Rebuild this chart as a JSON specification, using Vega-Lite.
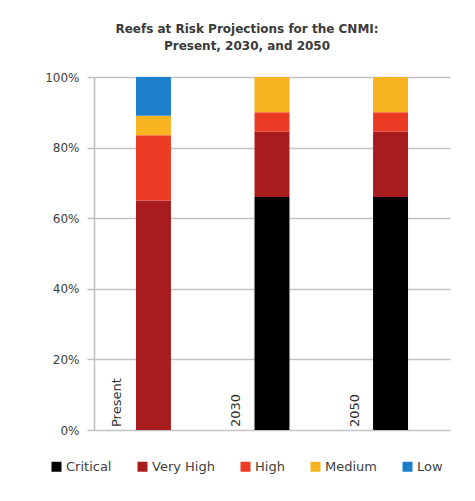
{
  "$schema": "https://vega.github.io/schema/vega-lite/v6.json",
  "autosize": {"type": "none"},
  "width": 356,
  "height": 353,
  "padding": {"left": 94, "top": 77, "right": 25, "bottom": 71},
  "background": "white",
  "title": {
    "text": ["Reefs at Risk Projections for the CNMI:", "Present, 2030, and 2050"],
    "font": "DejaVu Sans",
    "fontSize": 12,
    "fontWeight": "bold",
    "color": "#3a3a3a",
    "lineHeight": 17,
    "anchor": "middle",
    "frame": "group",
    "dx": -25,
    "offset": 18
  },
  "datasets": {
    "risk": [
      {"period": "Present", "level": "Critical", "share": 0.0},
      {"period": "Present", "level": "Very High", "share": 0.65},
      {"period": "Present", "level": "High", "share": 0.185},
      {"period": "Present", "level": "Medium", "share": 0.055},
      {"period": "Present", "level": "Low", "share": 0.11},
      {"period": "2030", "level": "Critical", "share": 0.66},
      {"period": "2030", "level": "Very High", "share": 0.185},
      {"period": "2030", "level": "High", "share": 0.055},
      {"period": "2030", "level": "Medium", "share": 0.10},
      {"period": "2030", "level": "Low", "share": 0.0},
      {"period": "2050", "level": "Critical", "share": 0.66},
      {"period": "2050", "level": "Very High", "share": 0.185},
      {"period": "2050", "level": "High", "share": 0.055},
      {"period": "2050", "level": "Medium", "share": 0.10},
      {"period": "2050", "level": "Low", "share": 0.0}
    ],
    "labels": [
      {"period": "Present", "base": 0},
      {"period": "2030", "base": 0},
      {"period": "2050", "base": 0}
    ]
  },
  "encoding": {
    "x": {
      "field": "period",
      "type": "nominal",
      "sort": ["Present", "2030", "2050"],
      "scale": {"paddingInner": 0.705, "paddingOuter": 0.354},
      "axis": null
    }
  },
  "layer": [
    {
      "data": {"name": "risk"},
      "transform": [
        {"calculate": "indexof(['Critical', 'Very High', 'High', 'Medium', 'Low'], datum.level)", "as": "stackRank"}
      ],
      "mark": {"type": "bar"},
      "encoding": {
        "y": {
          "field": "share",
          "type": "quantitative",
          "stack": "zero",
          "scale": {"domain": [0, 1]},
          "axis": {
            "values": [0, 0.2, 0.4, 0.6, 0.8, 1],
            "format": ".0%",
            "title": null,
            "labelFont": "DejaVu Sans",
            "labelFontSize": 12,
            "labelColor": "#404040",
            "labelPadding": 8,
            "tickSize": 7,
            "tickColor": "#bdbdbd",
            "tickWidth": 1.5,
            "domainColor": "#bdbdbd",
            "domainWidth": 1.5,
            "gridColor": "#c4c4c4",
            "gridWidth": 1.5
          }
        },
        "order": {"field": "stackRank", "type": "quantitative", "sort": "ascending"},
        "color": {
          "field": "level",
          "type": "nominal",
          "sort": ["Critical", "Very High", "High", "Medium", "Low"],
          "scale": {
            "domain": ["Critical", "Very High", "High", "Medium", "Low"],
            "range": ["#000000", "#a81c1e", "#ec3b25", "#f7b420", "#1b7fcc"]
          },
          "legend": {
            "orient": "none",
            "legendX": -44,
            "legendY": 383,
            "direction": "horizontal",
            "title": null,
            "symbolType": "square",
            "symbolSize": 100,
            "symbolStrokeWidth": 0,
            "labelFont": "DejaVu Sans",
            "labelFontSize": 13,
            "labelColor": "#404040",
            "labelOffset": 3,
            "columnPadding": 24
          }
        }
      }
    },
    {
      "data": {"name": "labels"},
      "mark": {
        "type": "text",
        "angle": 270,
        "align": "left",
        "baseline": "middle",
        "xOffset": -36,
        "dx": 3,
        "font": "DejaVu Sans",
        "fontSize": 13,
        "color": "#333333"
      },
      "encoding": {
        "y": {"field": "base", "type": "quantitative"},
        "text": {"field": "period"}
      }
    }
  ],
  "config": {
    "view": {"stroke": null}
  }
}
